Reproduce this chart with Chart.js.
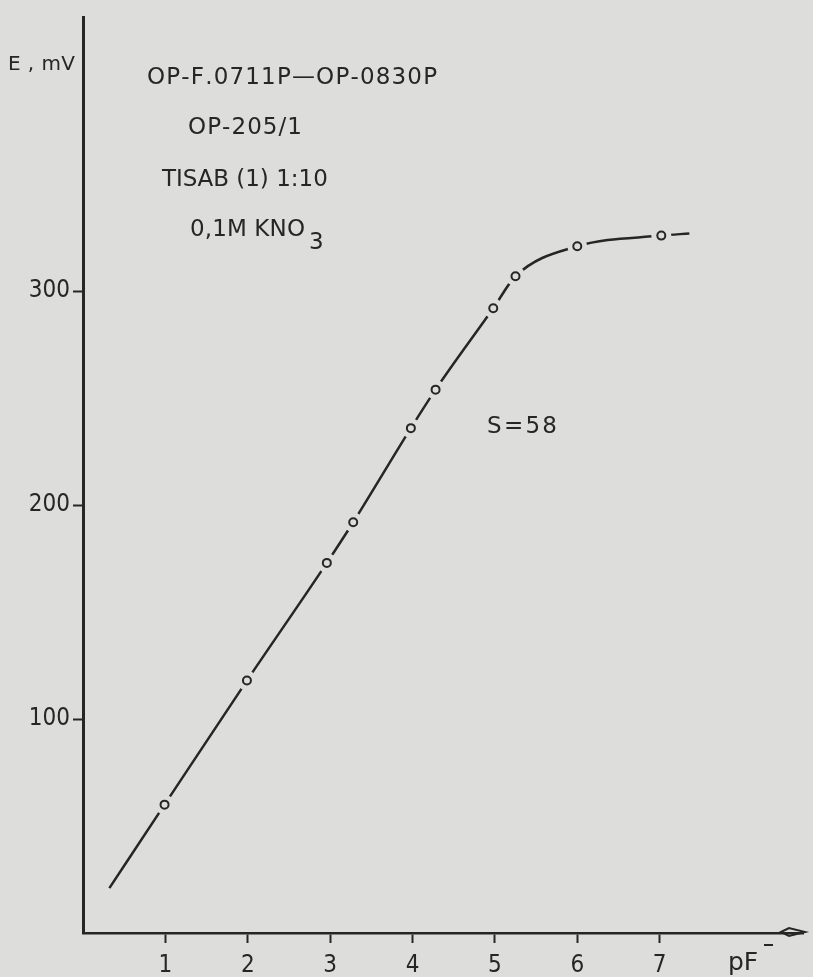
<!DOCTYPE html>
<html lang="en">
<head>
  <meta charset="UTF-8" />
  <title>E vs pF- calibration</title>
  <script src="https://cdn.jsdelivr.net/npm/chart.js"></script>
  <style>
    body {
      margin: 0;
      padding: 0;
      background-color: #dddddb;
    }
    .wrap {
      width: 813px;
      height: 977px;
    }
  </style>
</head>
<body>
  <div class="wrap">
    <canvas id="chart"></canvas>
  </div>

  <script>
    // measured points (pF-, E in mV)
    const pF = [0.99, 1.99, 2.96, 3.28, 3.98, 4.28, 4.98, 5.25, 6.0, 7.02];
    const emf = [60, 118, 173, 192, 236, 254, 292, 307, 321, 326];
    // where the hand drawn curve starts and stops
    const curvePF = [0.32, 7.36];
    const curveE = [21, 327];
    const xTicks = [1, 2, 3, 4, 5, 6, 7];
    const yTicks = [100, 200, 300];

    const bg = '#dddddb';
    const ink = '#262626';
    const font = "'DejaVu Sans Condensed', 'DejaVu Sans', sans-serif";
    const wideFont = "'DejaVu Sans', sans-serif";

    const points = pF.map((x, i) => ({ x, y: emf[i] }));
    const curve = [{ x: curvePF[0], y: curveE[0] }, ...points, { x: curvePF[1], y: curveE[1] }];

    // lettering on the original is spaced wide, so spread chars to a given width
    function spaced(c, str, x, y, width) {
      const ws = [...str].map(ch => c.measureText(ch).width);
      const total = ws.reduce((a, b) => a + b, 0);
      const gap = str.length > 1 ? Math.max(0, (width - total) / (str.length - 1)) : 0;
      let cx = x;
      [...str].forEach((ch, i) => {
        c.fillText(ch, cx, y);
        cx += ws[i] + gap;
      });
    }

    const paper = {
      id: 'paper',
      beforeDraw(chart) {
        const c = chart.ctx;
        c.save();
        c.fillStyle = bg;
        c.fillRect(0, 0, chart.width, chart.height);
        c.restore();
      },
      afterDraw(chart) {
        const c = chart.ctx;
        const a = chart.chartArea;
        c.save();
        c.fillStyle = ink;
        c.strokeStyle = ink;
        c.textBaseline = 'middle';
        c.textAlign = 'left';

        // arrow at end of x axis
        const ay = a.bottom - 1;
        c.lineWidth = 2;
        c.beginPath();
        c.moveTo(a.right - 22, ay);
        c.lineTo(a.right - 14, ay - 4);
        c.lineTo(a.right + 2, ay);
        c.lineTo(a.right - 14, ay + 4);
        c.closePath();
        c.stroke();

        c.font = '20px ' + wideFont;
        spaced(c, 'E , mV', 8, 65, 67);

        c.font = '23px ' + wideFont;
        spaced(c, 'OP-F.0711P\u2014OP-0830P', 147, 78, 290);
        spaced(c, 'OP-205/1', 188, 128, 114);
        spaced(c, 'TISAB (1) 1:10', 162, 180, 163);
        spaced(c, '0,1M KNO', 190, 230, 115);
        c.fillText('3', 309, 243);
        spaced(c, 'S=58', 487, 427, 70);

        c.font = '25px ' + wideFont;
        spaced(c, 'pF', 728, 963, 30);
        c.lineWidth = 2;
        c.beginPath();
        c.moveTo(764, 945);
        c.lineTo(773, 945);
        c.stroke();
        c.restore();
      }
    };

    new Chart(document.getElementById('chart'), {
      type: 'line',
      data: {
        datasets: [
          {
            label: 'points',
            data: points,
            showLine: false,
            pointRadius: 4,
            pointBorderWidth: 2,
            pointBorderColor: ink,
            pointBackgroundColor: bg
          },
          {
            label: 'gap',
            data: points,
            showLine: false,
            pointRadius: 10,
            pointBorderWidth: 0,
            pointBackgroundColor: bg,
            pointBorderColor: bg
          },
          {
            label: 'curve',
            data: curve,
            borderColor: ink,
            borderWidth: 2.5,
            pointRadius: 0,
            cubicInterpolationMode: 'monotone',
            fill: false
          }
        ]
      },
      options: {
        responsive: true,
        maintainAspectRatio: false,
        animation: false,
        layout: { padding: { top: 12, right: 6, left: 0, bottom: 0 } },
        plugins: {
          legend: { display: false },
          tooltip: { enabled: false }
        },
        scales: {
          x: {
            type: 'linear',
            min: 0,
            max: 8.74,
            afterBuildTicks: s => { s.ticks = xTicks.map(v => ({ value: v })); },
            afterFit: s => { s.height = 44; },
            border: { color: ink, width: 2.5 },
            grid: { drawOnChartArea: false, drawTicks: true, tickLength: 10, tickWidth: 2, color: ink },
            ticks: { color: ink, padding: 8, font: { family: font, size: 24 } }
          },
          y: {
            min: 0,
            max: 428,
            afterBuildTicks: s => { s.ticks = yTicks.map(v => ({ value: v })); },
            afterFit: s => { s.width = 83; },
            border: { color: ink, width: 3 },
            grid: { drawOnChartArea: false, drawTicks: true, tickLength: 10, tickWidth: 2, color: ink },
            ticks: { color: ink, padding: 3, font: { family: font, size: 24 } }
          }
        }
      },
      plugins: [paper]
    });
  </script>
</body>
</html>
